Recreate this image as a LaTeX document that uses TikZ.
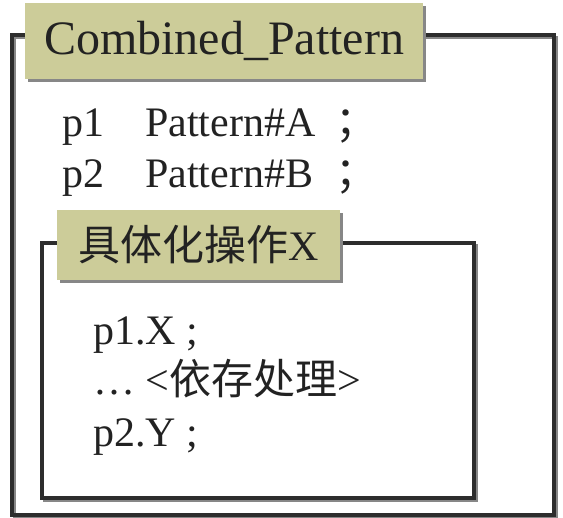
\documentclass[tikz,border=0pt]{standalone}
\usepackage{fontspec}
\newfontfamily\serifmain{Liberation Serif}
\newfontfamily\cjkfont{Noto Sans CJK SC}
\usetikzlibrary{shadows}
\definecolor{tabfill}{RGB}{204,204,153}
\definecolor{framec}{RGB}{45,45,45}
\definecolor{shadowc}{RGB}{135,135,135}
\definecolor{textc}{RGB}{34,34,34}
\begin{document}
\begin{tikzpicture}[x=1pt,y=-1pt,
  frameline/.style={draw=framec, line width=3.5pt},
  frameshadow/.style={draw=shadowc, line width=3.5pt},
  tab/.style={fill=tabfill, inner sep=0pt, text=textc,
    drop shadow={shadow xshift=3pt, shadow yshift=-3pt, fill=shadowc, opacity=1}},
  body/.style={anchor=base west, inner sep=0pt, text=textc,
    font=\serifmain\fontsize{42}{48}\selectfont}]
\useasboundingbox (0,0) rectangle (563,518);

% outer frame
\coordinate (o1) at (12,35);
\coordinate (o2) at (554,515);
\draw[frameshadow] ([shift={(2.5,2.5)}]o1) rectangle ([shift={(2.5,2.5)}]o2);
\draw[frameline] (o1) rectangle (o2);

% outer tab
\node[tab, minimum width=398pt, minimum height=76pt,
      font=\serifmain\fontsize{48}{54}\selectfont] (tabA) at (224,41) {Combined\_Pattern};

% declarations
\node[body] (p1) at (62,137) {p1};
\node[body] (pa) at (145,137) {Pattern\#A};
\node[body] (sa) at (335,137) {\cjkfont ；};
\node[body] (p2) at (62,188) {p2};
\node[body] (pb) at (145,188) {Pattern\#B};
\node[body] (sb) at (335,188) {\cjkfont ；};

% inner frame
\coordinate (i1) at (42,243);
\coordinate (i2) at (474,498);
\draw[frameshadow] ([shift={(2.5,2.5)}]i1) rectangle ([shift={(2.5,2.5)}]i2);
\draw[frameline, fill=white] (i1) rectangle (i2);

% inner tab
\node[tab, minimum width=283pt, minimum height=70pt,
      font=\serifmain\fontsize{42}{48}\selectfont] (tabB) at (198.5,245) {{\cjkfont 具体化操作}X};

% inner body
\node[body] (l1) at (93,345) {p1.X ;};
\node[body] (l2) at (93,395) {… <{\cjkfont 依存处理}>};
\node[body] (l3) at (93,447) {p2.Y ;};
\end{tikzpicture}
\end{document}
